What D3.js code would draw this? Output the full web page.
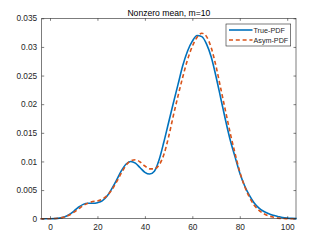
<!DOCTYPE html>
<html>
<head>
<meta charset="utf-8">
<script src="https://cdn.jsdelivr.net/npm/d3@7"></script>
<style>
  html, body { margin: 0; padding: 0; background: #fff; }
  svg { display: block; font-family: "Liberation Sans", Arial, sans-serif; }
</style>
</head>
<body>
<div id="chart"></div>
<script>
const xs = [-4, -2, 0, 2, 4, 6, 8, 10, 12, 14, 16, 18, 20, 22, 24, 26, 28, 30, 32, 34, 36, 38, 40, 42, 44, 46, 48, 50,
  52, 54, 56, 58, 60, 62, 64, 66, 68, 70, 72, 74, 76, 78, 80, 82, 84, 86, 88, 90, 92, 94, 96, 98, 100, 102, 104];

const truePdf = [0, 0, 0, 0.00002, 0.0001, 0.0003, 0.0007, 0.0013, 0.0020, 0.0025, 0.0027, 0.0027, 0.0028, 0.0031,
  0.0039, 0.0052, 0.0067, 0.0083, 0.0095, 0.0100, 0.0097, 0.0089, 0.0081, 0.0078, 0.0083, 0.0103, 0.0134, 0.0168,
  0.0202, 0.0235, 0.0268, 0.0293, 0.0310, 0.0320, 0.0318, 0.0305, 0.0282, 0.0248, 0.0210, 0.0172, 0.0137, 0.0108,
  0.0080, 0.0058, 0.0041, 0.0028, 0.0019, 0.0013, 0.0009, 0.0006, 0.0004, 0.0002, 0.0001, 0.00005, 0.00002];

const asymPdf = [0, 0, 0, 0.00003, 0.0001, 0.0003, 0.0006, 0.0011, 0.0017, 0.0023, 0.0027, 0.0030, 0.0031, 0.0034,
  0.0040, 0.0050, 0.0064, 0.0079, 0.0093, 0.0101, 0.0103, 0.0099, 0.0092, 0.0087, 0.0087, 0.0094, 0.0112, 0.0143,
  0.0180, 0.0215, 0.0248, 0.0278, 0.0301, 0.0317, 0.0324, 0.0318, 0.0298, 0.0266, 0.0227, 0.0188, 0.0149, 0.0114,
  0.0082, 0.0057, 0.0038, 0.0024, 0.0015, 0.0009, 0.0005, 0.0003, 0.0001, 0.00005, 0, 0, 0];

const xTicks = [0, 20, 40, 60, 80, 100];
const yTicks = [0, 0.005, 0.01, 0.015, 0.02, 0.025, 0.03, 0.035];
const seriesNames = ["True-PDF", "Asym-PDF"];

const width = 327, height = 245;
const margin = { top: 18.3, right: 31, bottom: 26.3, left: 41.7 };
const innerW = width - margin.left - margin.right;
const innerH = height - margin.top - margin.bottom;
const axisColor = "#262626";

const svg = d3.select("#chart").append("svg")
  .attr("width", width)
  .attr("height", height);

const g = svg.append("g")
  .attr("transform", `translate(${margin.left},${margin.top})`);

const x = d3.scaleLinear().domain([-3.5, 103.7]).range([0, innerW]);
const y = d3.scaleLinear().domain([0, 0.035]).range([innerH, 0]);

// 曲線
const line = (vals) => d3.line()
  .x((d, i) => x(xs[i]))
  .y(d => y(d))
  .curve(d3.curveMonotoneX)(vals);

g.append("path")
  .attr("d", line(truePdf))
  .attr("fill", "none")
  .attr("stroke", "#0072BD")
  .attr("stroke-width", 1.6);

g.append("path")
  .attr("d", line(asymPdf))
  .attr("fill", "none")
  .attr("stroke", "#D95319")
  .attr("stroke-width", 1.6)
  .attr("stroke-dasharray", "4,2.8");

// 軸（内向き目盛り、上と右にも）
const tickLen = 2.5;
const styleAxis = (sel) => {
  sel.select(".domain").remove();
  sel.selectAll("line").attr("stroke", axisColor).attr("stroke-width", 0.6);
  sel.selectAll("text")
    .attr("fill", axisColor)
    .style("font-size", "8.3px");
};

g.append("g")
  .attr("transform", `translate(0,${innerH})`)
  .call(d3.axisBottom(x).tickValues(xTicks).tickSize(-tickLen).tickPadding(5).tickFormat(d3.format("d")))
  .call(styleAxis);

g.append("g")
  .call(d3.axisTop(x).tickValues(xTicks).tickSize(-tickLen).tickFormat(""))
  .call(styleAxis);

g.append("g")
  .call(d3.axisLeft(y).tickValues(yTicks).tickSize(-tickLen).tickPadding(4.5).tickFormat(d => d === 0 ? "0" : String(+d.toFixed(3))))
  .call(styleAxis);

g.append("g")
  .attr("transform", `translate(${innerW},0)`)
  .call(d3.axisRight(y).tickValues(yTicks).tickSize(-tickLen).tickFormat(""))
  .call(styleAxis);

g.append("rect")
  .attr("width", innerW)
  .attr("height", innerH)
  .attr("fill", "none")
  .attr("stroke", axisColor)
  .attr("stroke-width", 0.6);

// タイトル
svg.append("text")
  .attr("x", margin.left + innerW / 2)
  .attr("y", 15.6)
  .attr("text-anchor", "middle")
  .attr("fill", "#000")
  .style("font-size", "8.6px")
  .text("Nonzero mean, m=10");

// 凡例
const legend = svg.append("g").attr("transform", "translate(226,24)");
legend.append("rect")
  .attr("width", 64.7)
  .attr("height", 22)
  .attr("fill", "#fff")
  .attr("stroke", axisColor)
  .attr("stroke-width", 0.6);

const legendStyles = [
  { color: "#0072BD", dash: null },
  { color: "#D95319", dash: "4,2.8" }
];

seriesNames.forEach((name, i) => {
  const yy = 6 + i * 10;
  legend.append("line")
    .attr("x1", 3).attr("x2", 26.5)
    .attr("y1", yy).attr("y2", yy)
    .attr("stroke", legendStyles[i].color)
    .attr("stroke-width", 1.6)
    .attr("stroke-dasharray", legendStyles[i].dash);
  legend.append("text")
    .attr("x", 27.5)
    .attr("y", yy + 2.6)
    .attr("fill", axisColor)
    .style("font-size", "7.2px")
    .text(name);
});
</script>
</body>
</html>
